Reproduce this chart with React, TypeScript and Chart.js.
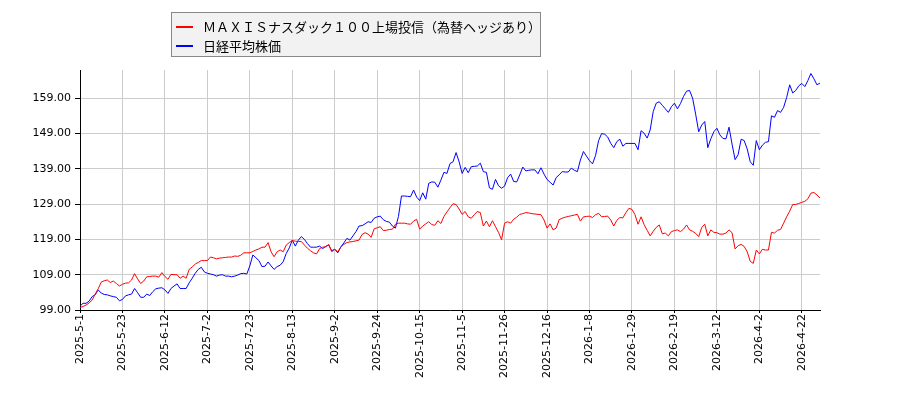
import { useEffect, useRef } from 'react';
import { Chart, registerables } from 'chart.js';

Chart.register(...registerables);

// Tokyo exchange holidays in the period (weekdays the market was closed)
const holidays = [
  '2025-5-5', '2025-5-6', '2025-7-21', '2025-8-11', '2025-9-15', '2025-9-23',
  '2025-10-13', '2025-11-3', '2025-11-24', '2025-12-31', '2026-1-1', '2026-1-2',
  '2026-1-12', '2026-2-11', '2026-2-23', '2026-3-20', '2026-4-29',
];

const seriesNames = ['ＭＡＸＩＳナスダック１００上場投信（為替ヘッジあり）', '日経平均株価'];
const seriesColors = ['#ff0000', '#0000ff'];

// relative values (start = 100)
const maxisNasdaq = [
  99.7, 100.0, 100.4, 101.0, 101.8, 103.5, 105.0, 106.9, 107.3, 107.5,
  106.8, 107.2, 106.5, 105.8, 106.3, 106.6, 106.7, 107.5, 109.3, 107.8,
  106.5, 107.2, 108.4, 108.5, 108.6, 108.6, 108.3, 109.6, 108.5, 107.7,
  109.1, 109.0, 109.0, 108.0, 108.6, 108.0, 110.5, 111.2, 112.0, 112.5,
  113.0, 113.0, 113.0, 114.0, 113.8, 113.5, 113.7, 113.8, 113.9, 114.0,
  114.0, 114.3, 114.2, 114.5, 115.2, 115.2, 115.2, 115.6, 116.0, 116.3,
  116.8, 116.8, 118.1, 115.5, 114.1, 115.5, 116.0, 115.5, 117.4, 118.1,
  118.7, 118.5, 118.4, 118.4, 117.4, 116.5, 115.8, 115.2, 114.9, 116.4,
  116.8, 116.9, 117.6, 115.5, 116.2, 115.5, 116.8, 117.6, 118.1, 118.3,
  118.4, 118.6, 118.8, 120.4, 120.9, 120.5, 119.6, 122.0, 122.3, 122.6,
  121.5, 121.6, 121.8, 121.9, 123.3, 123.6, 123.6, 123.6, 123.4, 123.3,
  124.2, 124.7, 121.9, 122.8, 123.4, 124.0, 123.2, 123.0, 124.3, 123.5,
  125.5, 126.8, 128.0, 129.1, 128.9, 127.6, 126.1, 126.9, 125.4, 125.0,
  126.0, 126.9, 126.6, 122.8, 124.2, 122.6, 124.3, 122.6, 121.0, 118.9,
  123.6, 124.0, 123.6, 124.7, 125.3, 126.1, 126.3, 126.6, 126.5, 126.3,
  126.2, 126.1, 126.0, 124.5, 122.2, 123.4, 121.7, 122.2, 124.6, 125.0,
  125.3, 125.5, 125.7, 125.9, 126.1, 124.2, 125.4, 125.5, 125.6, 125.2,
  126.0, 126.4, 125.4, 125.5, 125.6, 124.5, 122.8, 124.4, 125.2, 125.1,
  126.6, 127.8, 127.5, 126.0, 123.3, 125.4, 123.2, 121.6, 120.0, 121.3,
  122.4, 123.1, 120.6, 120.8, 120.0, 121.2, 121.5, 121.7, 121.2, 121.9,
  123.1, 121.7, 121.3, 120.7, 119.8, 122.4, 123.3, 120.0, 121.7, 121.0,
  120.9, 120.5, 120.5, 120.8, 121.7, 120.9, 116.3, 117.2, 117.6, 117.0,
  115.5, 112.8, 112.2, 116.0, 114.9, 116.2, 116.0, 116.0, 121.0, 120.8,
  121.6, 121.8, 123.6, 125.4, 127.0, 128.9, 128.9, 129.2, 129.5, 129.8,
  130.5, 132.1, 132.3, 131.6, 130.7,
];

const nikkei = [
  100.1, 100.9, 100.9, 101.5, 102.8, 103.3, 104.7, 103.8, 103.4, 103.3,
  103.0, 102.8, 102.6, 101.6, 102.0, 103.0, 103.3, 103.5, 105.1, 103.9,
  102.6, 102.6, 103.5, 103.1, 104.2, 105.0, 105.2, 105.3, 104.7, 103.7,
  105.1, 105.8, 106.4, 105.1, 105.1, 105.1, 106.7, 108.0, 109.4, 110.5,
  111.1, 109.8, 109.4, 109.2, 109.0, 108.6, 108.9, 109.0, 108.6, 108.6,
  108.4, 108.6, 108.9, 109.3, 109.4, 109.2, 111.5, 114.6, 113.8, 113.0,
  111.3, 111.4, 112.6, 111.5, 110.5, 111.3, 111.7, 112.7, 115.0, 116.6,
  118.8, 117.1, 118.8, 119.8, 119.0, 117.8, 116.8, 116.8, 116.8, 117.1,
  116.4, 117.0, 117.4, 115.8, 116.2, 115.2, 116.9, 118.0, 119.3, 118.8,
  120.0, 121.2, 122.8, 122.9, 123.4, 124.0, 123.8, 125.0, 125.4, 125.6,
  124.6, 124.1, 123.9, 122.8, 122.2, 125.5, 131.3, 131.3, 131.2, 131.1,
  133.0, 131.0, 130.0, 132.2, 130.4, 134.9, 135.3, 135.2, 133.8, 135.8,
  138.0, 137.7, 140.5, 141.0, 143.6, 141.0, 137.7, 139.4, 137.9, 139.6,
  139.7, 139.8, 140.6, 138.2, 138.0, 133.6, 133.2, 136.0, 134.2, 133.5,
  134.1, 136.5, 137.5, 135.4, 135.3, 137.3, 139.5, 138.4, 138.6, 138.7,
  138.7, 137.6, 139.3, 137.5, 136.0, 135.2, 134.4, 136.5, 137.3, 138.2,
  138.1, 138.1, 139.2, 138.6, 138.2, 141.5, 143.9, 142.6, 141.3, 140.4,
  142.8, 147.0, 149.0, 148.8, 148.0, 146.2, 145.0, 146.7, 147.4, 145.4,
  146.2, 146.2, 146.2, 146.2, 144.4, 149.8, 149.1, 147.7, 150.0, 155.2,
  157.6, 158.0, 157.0, 156.0, 155.0, 156.6, 157.6, 156.0, 157.5, 159.5,
  161.0, 161.2, 159.0, 154.5, 149.5, 151.4, 152.4, 145.0, 147.5, 149.5,
  150.5, 148.6, 147.6, 147.5, 150.8, 146.0, 141.6, 143.0, 147.4, 147.0,
  144.6, 141.0, 140.0, 147.0, 144.4, 145.7, 146.5, 146.7, 154.0, 153.6,
  155.5, 155.0, 156.4, 159.2, 162.8, 160.5, 161.2, 162.5, 163.2, 162.3,
  164.0, 166.0, 164.5, 162.8, 163.3,
];

const fmt = (d: Date) => `${d.getFullYear()}-${d.getMonth() + 1}-${d.getDate()}`;

// trading days from 2025-5-1, one per value
function tradingDays(count: number) {
  const out: string[] = [];
  const d = new Date(2025, 4, 1);
  while (out.length < count) {
    const wd = d.getDay();
    const s = fmt(d);
    if (wd !== 0 && wd !== 6 && !holidays.includes(s)) out.push(s);
    d.setDate(d.getDate() + 1);
  }
  return out;
}

const labels = tradingDays(nikkei.length);
const tickEvery = 14;
const yMin = 99;
const yMax = 167;
const yTicks = [99, 109, 119, 129, 139, 149, 159];

const fontFamily = '"DejaVu Sans", sans-serif';

export default function App() {
  const canvasRef = useRef<HTMLCanvasElement>(null);
  const chartRef = useRef<Chart | null>(null);

  useEffect(() => {
    if (!canvasRef.current) return;
    if (chartRef.current) chartRef.current.destroy();

    chartRef.current = new Chart(canvasRef.current, {
      type: 'line',
      data: {
        labels,
        datasets: [maxisNasdaq, nikkei].map((values, i) => ({
          label: seriesNames[i],
          data: values,
          borderColor: seriesColors[i],
          backgroundColor: seriesColors[i],
          borderWidth: 1,
          pointRadius: 0,
          tension: 0,
        })),
      },
      options: {
        responsive: false,
        animation: false,
        layout: { padding: { top: 70, right: 80, bottom: 0, left: 0 } },
        plugins: {
          legend: { display: false },
          tooltip: { enabled: false },
        },
        scales: {
          x: {
            type: 'category',
            offset: false,
            afterBuildTicks: (axis: any) => {
              axis.ticks = axis.ticks.filter((t: any) => t.value % tickEvery === 0);
            },
            afterFit: (scale: any) => {
              scale.height = 90;
            },
            grid: { color: '#cccccc', offset: false, tickColor: '#000', tickLength: 3 },
            border: { color: '#000', width: 1 },
            ticks: {
              autoSkip: false,
              maxRotation: 90,
              minRotation: 90,
              padding: 1,
              color: '#000',
              font: { family: fontFamily, size: 11 },
              callback: function (value: any) {
                return labels[value as number];
              },
            },
          },
          y: {
            min: yMin,
            max: yMax,
            afterBuildTicks: (axis: any) => {
              axis.ticks = yTicks.map((v) => ({ value: v }));
            },
            afterFit: (scale: any) => {
              scale.width = 80;
            },
            grid: { color: '#cccccc', tickColor: '#000', tickLength: 5 },
            border: { color: '#000', width: 1 },
            ticks: {
              padding: 4,
              color: '#000',
              font: { family: fontFamily, size: 11 },
              callback: (value: any) => Number(value).toFixed(2),
            },
          },
        },
      },
    });

    return () => {
      if (chartRef.current) {
        chartRef.current.destroy();
        chartRef.current = null;
      }
    };
  }, []);

  return (
    <div style={{ position: 'absolute', left: 0, top: 0, width: 900, height: 400, background: '#fff' }}>
      <canvas ref={canvasRef} width={900} height={400} />
      <div
        style={{
          position: 'absolute',
          left: 171,
          top: 12,
          width: 368,
          height: 43,
          background: '#f2f2f2',
          border: '1px solid #888',
          fontFamily: '"Noto Sans CJK JP", sans-serif',
          fontSize: 13,
          color: '#000',
        }}
      >
        {seriesNames.map((name, i) => (
          <div key={name} style={{ position: 'absolute', left: 4, top: 4 + i * 19, height: 19, display: 'flex', alignItems: 'center' }}>
            <span style={{ display: 'inline-block', width: 17, height: 2, background: seriesColors[i], marginRight: 10 }} />
            <span style={{ whiteSpace: 'nowrap' }}>{name}</span>
          </div>
        ))}
      </div>
    </div>
  );
}
